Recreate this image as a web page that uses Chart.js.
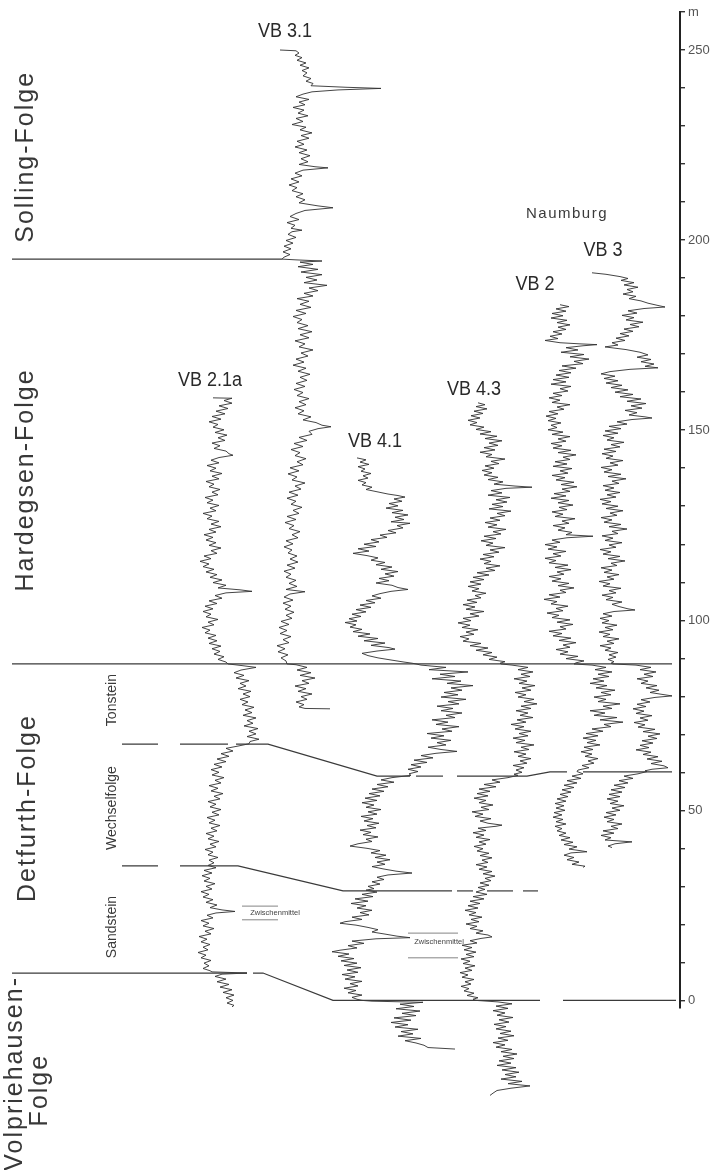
<!DOCTYPE html>
<html lang="de">
<head>
<meta charset="utf-8">
<title>Gamma-Ray-Logs Buntsandstein</title>
<script src="https://cdn.jsdelivr.net/npm/chart.js@4.4.1/dist/chart.umd.min.js"></script>
<style>
  html, body { margin: 0; padding: 0; background: #fff; }
  canvas { display: block; }
</style>
</head>
<body>
<canvas id="logs" width="716" height="1170"></canvas>
<script>
// Depth axis (m) and its labelled ticks
const depthMin = -2;
const depthMax = 260;
const depthStep = 10;
const depthLabelEvery = 50;
const depthUnit = 'm';

// Log traces: [depth in m, log deflection]
const vb31 = [
[250.0,280],[249.8,296],[249.2,299],[248.6,295],[248.0,302],[247.3,297],[246.6,306],[246.0,300],[245.3,309],[244.6,302],[244.0,307],[243.2,303],[242.5,311],[241.8,306],[241.2,313],[240.6,311],
[240.2,346],[239.9,381],[239.5,338],[239.0,312],[238.4,303],[237.7,296],[237.0,309],[236.3,299],[235.6,305],[234.9,293],[234.2,304],[233.4,298],[232.7,308],[232.0,296],[231.2,303],[230.4,292],[229.7,306],[229.0,300],[228.2,312],[227.5,301],[226.8,309],[226.0,297],[225.2,304],[224.5,295],[223.7,307],[223.0,299],[222.2,310],[221.4,301],[220.6,308],[219.9,299],[219.3,315],[219.0,328],[218.4,303],[217.6,295],[216.9,302],[216.1,291],[215.3,299],[214.5,289],[213.8,297],[213.0,292],[212.2,303],[211.4,296],[210.6,305],[209.8,299],[209.0,318],[208.5,333],[207.8,305],[207.0,296],[206.2,290],[205.4,299],[204.6,287],[203.9,295],[203.1,291],[202.6,302],[202.2,292],[201.5,288],[200.7,296],[199.9,286],[199.2,293],[198.4,284],[197.7,291],[196.9,283],[196.2,290],[195.5,284],[195.0,282],
[194.8,296],[194.5,322],[194.2,300],[193.6,313],[193.0,298],[192.3,318],[191.6,301],[190.9,322],[190.2,306],[189.5,317],[188.8,304],[188.1,327],[187.4,309],[186.7,318],[186.0,304],[185.3,313],[184.6,297],[183.9,309],[183.1,300],[182.3,311],[181.5,296],[180.7,306],[179.9,293],[179.1,302],[178.3,297],[177.5,308],[176.7,298],[175.9,312],[175.1,300],[174.3,309],[173.5,295],[172.7,305],[171.9,299],[171.1,313],[170.3,301],[169.5,308],[168.7,296],[167.9,304],[167.1,293],[166.3,306],[165.5,298],[164.7,310],[163.9,300],[163.1,307],[162.3,296],[161.5,305],[160.7,294],[159.9,303],[159.1,297],[158.3,309],[157.5,299],[156.7,306],[155.9,295],[155.1,304],[154.3,298],[153.5,311],[152.7,303],[152.0,316],[151.3,322],[150.9,331],[150.4,318],[149.7,309],[148.9,312],[148.1,299],[147.3,307],[146.5,294],[145.7,303],[144.9,291],[144.1,300],[143.3,295],[142.5,306],[141.7,297],[140.9,303],[140.1,290],[139.3,299],[138.5,288],[137.7,297],[136.9,292],[136.1,305],[135.3,295],[134.5,301],[133.7,289],[132.9,298],[132.1,287],[131.3,296],[130.5,291],[129.7,302],[128.9,293],[128.1,299],[127.3,287],[126.5,296],[125.7,285],[124.9,294],[124.1,289],[123.3,300],[122.5,292],[121.7,298],[120.9,286],[120.1,293],[119.3,284],[118.5,292],[117.7,288],[116.9,297],[116.1,290],[115.3,298],[114.5,287],[113.7,295],[112.9,284],[112.1,291],[111.3,286],[110.5,296],[109.7,289],[108.9,297],[108.1,286],[107.5,305],[106.9,290],[106.1,284],[105.3,293],[104.5,283],[103.7,291],[102.9,285],[102.1,294],[101.3,286],[100.5,292],[99.7,281],[98.9,289],[98.1,279],[97.3,287],[96.5,280],[95.7,291],[94.9,283],[94.1,289],[93.3,277],[92.5,285],[91.7,278],[90.9,288],[90.1,281],[89.3,286],[88.5,287],
[88.3,296],[87.6,307],[86.9,297],[86.2,311],[85.5,300],[84.8,315],[84.1,302],[83.4,309],[82.7,295],[82.0,306],[81.3,298],[80.6,312],[79.9,301],[79.2,307],[78.5,296],[77.8,304],[77.2,299],[76.8,305],[76.7,330]
];

const vb21a = [
[158.5,213],[158.4,232],[157.8,224],[157.1,232],[156.4,219],[155.7,228],[155.0,216],[154.3,225],[153.6,212],[152.9,221],[152.2,209],[151.5,218],[150.8,213],[150.1,224],[149.4,215],[148.7,227],[148.0,218],[147.3,225],[146.6,212],[145.9,220],[145.2,214],[144.5,226],[143.8,229],[143.4,233],[142.8,219],[142.1,211],[141.4,219],[140.7,207],[140.0,216],[139.3,210],[138.6,222],[137.9,212],[137.2,219],[136.5,206],[135.8,214],[135.1,209],[134.4,220],[133.7,212],[133.0,218],[132.3,205],[131.6,213],[130.9,207],[130.2,219],[129.5,210],[128.8,216],[128.1,203],[127.4,212],[126.7,207],[126.0,219],[125.3,211],[124.6,221],[123.9,209],[123.2,216],[122.5,204],[121.8,213],[121.1,206],[120.4,216],[119.7,209],[119.0,221],[118.3,211],[117.6,217],[116.9,204],[116.2,211],[115.5,200],[114.8,209],[114.1,203],[113.4,214],[112.7,206],[112.0,217],[111.3,210],[110.6,222],[109.9,213],[109.2,226],[108.5,218],[108.0,240],[107.6,252],[107.2,226],[106.5,215],[105.8,222],[105.1,209],[104.4,217],[103.7,205],[103.0,213],[102.3,203],[101.6,211],[100.9,206],[100.2,218],[99.5,208],[98.8,214],[98.1,202],[97.4,210],[96.7,205],[96.0,216],[95.3,208],[94.6,217],[93.9,209],[93.2,221],[92.5,212],[91.8,220],[91.1,214],[90.4,224],[89.7,218],[89.0,226],[88.5,228],
[88.2,238],[87.6,256],[86.9,241],[86.2,234],[85.5,244],[84.8,236],[84.1,249],[83.4,240],[82.7,246],[82.0,238],[81.3,251],[80.6,243],[79.9,250],[79.2,240],[78.5,248],[77.8,242],[77.1,254],[76.4,245],[75.7,252],[75.0,243],[74.3,256],[73.6,247],[72.9,253],[72.2,244],[71.5,258],[70.8,249],[70.1,256],[69.4,247],[68.7,259],[68.1,250],[67.5,249],
[66.9,238],[66.3,226],[65.6,233],[64.9,221],[64.2,229],[63.5,217],[62.8,226],[62.1,214],[61.4,222],[60.7,211],[60.0,219],[59.3,212],[58.6,224],[57.9,215],[57.2,221],[56.5,209],[55.8,218],[55.1,211],[54.4,223],[53.7,214],[53.0,220],[52.3,208],[51.6,216],[50.9,210],[50.2,221],[49.5,212],[48.8,219],[48.1,207],[47.4,215],[46.7,209],[46.0,220],[45.3,211],[44.6,217],[43.9,206],[43.2,214],[42.5,208],[41.8,219],[41.1,210],[40.4,216],[39.7,205],[39.0,213],[38.3,208],[37.6,218],[36.9,209],[36.2,214],[35.5,208],
[34.9,216],[34.2,204],[33.5,212],[32.8,202],[32.1,210],[31.4,204],[30.7,215],[30.0,206],[29.3,212],[28.6,201],[27.9,209],[27.2,203],[26.5,213],[25.8,206],[25.1,217],[24.4,210],[23.8,222],[23.4,235],[23.0,216],[22.4,207],[21.7,213],[21.0,201],[20.3,209],[19.6,203],[18.9,214],[18.2,205],[17.5,211],[16.8,199],[16.1,207],[15.4,201],[14.7,210],[14.0,203],[13.3,208],[12.6,198],[11.9,206],[11.2,201],[10.5,211],[9.8,204],[9.1,209],[8.4,203],[7.8,210],[7.5,212],
[7.2,247],[6.9,222],[6.3,215],[5.6,226],[4.9,217],[4.2,229],[3.5,220],[2.8,232],[2.1,223],[1.4,234],[0.7,226],[0.0,233],[-0.7,227],[-1.3,234],[-1.7,232]
];

const vb41 = [
[142.7,357],[142.2,366],[141.6,360],[141.0,369],[140.4,358],[139.8,365],[139.2,361],[138.6,371],[138.0,363],[137.4,368],[136.8,358],[136.2,366],[135.6,362],[135.0,372],[134.4,366],[133.8,377],[133.2,388],[132.8,398],[132.4,405],[131.9,394],[131.3,402],[130.7,389],[130.1,398],[129.5,386],[128.9,403],[128.3,392],[127.7,408],[127.1,395],[126.5,404],[125.9,391],[125.5,410],[124.9,397],[124.3,403],[123.6,388],[123.0,396],[122.4,380],[121.8,387],[121.2,371],[120.6,379],[120.0,364],[119.4,376],[118.8,358],[118.2,369],[117.6,353],[117.0,367],[116.4,378],[115.8,371],[115.2,385],[114.6,376],[114.0,392],[113.4,381],[112.8,398],[112.2,385],[111.6,394],[111.0,379],[110.4,389],[109.8,376],[109.2,392],[108.6,398],[108.1,408],[107.6,391],[107.0,380],[106.4,372],[105.8,381],[105.2,366],[104.6,375],[104.0,360],[103.4,371],[102.8,356],[102.2,366],[101.6,352],[101.0,361],[100.4,349],[99.8,357],[99.4,345],[98.8,356],[98.2,350],[97.6,362],[97.0,353],[96.4,370],[95.8,358],[95.2,378],[94.6,364],[94.0,385],[93.4,371],[92.8,389],[92.4,395],[91.9,377],[91.3,362],[90.7,368],[90.1,378],[89.5,392],[89.0,404],[88.7,412],[88.5,416],
[88.2,421],[87.6,446],[87.0,429],[86.4,468],[85.8,440],[85.2,455],[84.6,432],[84.0,461],[83.4,447],[82.8,473],[82.2,451],[81.6,462],[81.0,444],[80.4,458],[79.8,441],[79.2,466],[78.6,448],[78.0,459],[77.4,437],[76.8,453],[76.2,441],[75.6,462],[75.0,446],[74.4,455],[73.8,432],[73.2,448],[72.6,436],[72.0,459],[71.4,442],[70.8,452],[70.2,427],[69.6,444],[69.0,431],[68.4,451],[67.8,437],[67.2,446],[66.6,428],[66.0,441],[65.5,457],[65.0,436],[64.4,421],[63.8,433],[63.2,414],[62.6,427],[62.0,411],[61.4,421],[60.8,408],[60.2,418],[59.6,409],[59.2,411],
[58.6,392],[58.0,381],[57.4,394],[56.8,377],[56.2,388],[55.6,372],[55.0,384],[54.4,369],[53.8,380],[53.2,365],[52.6,377],[52.0,362],[51.4,374],[50.8,366],[50.2,381],[49.6,368],[49.0,377],[48.4,361],[47.8,373],[47.2,364],[46.6,379],[46.0,367],[45.4,376],[44.8,360],[44.2,371],[43.6,363],[43.0,378],[42.4,366],[41.8,372],[41.2,358],[40.6,350],[40.0,367],[39.4,380],[38.8,371],[38.2,386],[37.6,375],[37.0,390],[36.4,377],[35.8,385],[35.2,372],[34.6,383],[34.0,396],[33.5,412],[33.0,388],[32.4,377],[31.8,384],[31.2,372],[30.6,380],[30.0,368],[29.4,374],[29.0,366],
[28.5,377],[27.9,362],[27.3,373],[26.7,355],[26.1,368],[25.5,351],[24.9,366],[24.3,357],[23.7,372],[23.1,360],[22.5,369],[21.9,352],[21.3,362],[20.7,345],[20.3,340],[19.8,356],[19.2,368],[18.6,378],[18.0,372],[17.4,386],[16.9,397],[16.5,410],[16.2,376],[15.6,352],[15.0,364],[14.4,348],[13.8,357],[13.2,340],[12.8,332],[12.2,349],[11.6,338],[11.0,354],[10.4,341],[9.8,357],[9.2,344],[8.6,361],[8.0,347],[7.4,358],[6.8,342],[6.2,355],[5.6,345],[5.0,362],[4.4,350],[3.8,358],[3.2,344],[2.6,356],[2.0,348],[1.4,362],[0.8,352],[0.3,357],[0.0,362],
[-0.2,372],[-0.5,423],[-1.0,400],[-1.6,414],[-2.2,396],[-2.8,420],[-3.4,402],[-4.0,416],[-4.6,394],[-5.2,411],[-5.8,391],[-6.4,408],[-7.0,395],[-7.6,418],[-8.2,401],[-8.8,413],[-9.4,398],[-10.0,421],[-10.6,405],[-11.2,416],[-11.8,424],[-12.4,428],[-12.8,455]
];

const vb43 = [
[157.2,478],[156.7,485],[156.2,476],[155.6,487],[155.0,474],[154.4,483],[153.8,471],[153.2,480],[152.6,468],[152.0,477],[151.4,470],[150.8,484],[150.2,476],[149.6,491],[149.0,480],[148.4,497],[147.8,485],[147.2,502],[146.6,489],[146.0,498],[145.4,484],[144.8,495],[144.2,480],[143.6,492],[143.0,486],[142.4,505],[141.8,491],[141.2,499],[140.6,485],[140.0,494],[139.4,482],[138.8,492],[138.2,484],[137.6,498],[137.0,488],[136.4,503],[135.8,494],[135.3,515],[135.0,532],[134.7,506],[134.1,491],[133.5,502],[132.9,488],[132.3,510],[131.7,496],[131.1,507],[130.5,492],[129.9,503],[129.3,489],[128.7,511],[128.1,497],[127.5,505],[126.9,490],[126.3,500],[125.7,485],[125.1,497],[124.5,488],[123.9,506],[123.3,493],[122.7,501],[122.1,484],[121.5,496],[120.9,481],[120.3,493],[119.7,486],[119.1,505],[118.5,490],[117.9,499],[117.3,483],[116.7,494],[116.1,480],[115.5,491],[114.9,484],[114.3,500],[113.7,486],[113.1,495],[112.5,477],[111.9,489],[111.3,473],[110.7,484],[110.1,470],[109.5,481],[108.9,468],[108.3,479],[107.7,472],[107.1,486],[106.5,475],[105.9,481],[105.3,467],[104.7,477],[104.1,463],[103.5,475],[102.9,466],[102.3,484],[101.7,470],[101.1,479],[100.5,463],[99.9,471],[99.3,458],[98.7,470],[98.1,462],[97.5,478],[96.9,466],[96.3,474],[95.7,460],[95.1,469],[94.5,463],[93.9,481],[93.3,470],[92.7,488],[92.1,476],[91.5,492],[90.9,483],[90.3,497],[89.7,489],[89.1,505],[88.7,500],[88.5,501],
[88.2,512],[87.6,528],[87.0,518],[86.4,533],[85.8,521],[85.2,530],[84.6,514],[84.0,527],[83.4,519],[82.8,535],[82.2,522],[81.6,531],[81.0,515],[80.4,526],[79.8,518],[79.2,534],[78.6,524],[78.0,537],[77.4,521],[76.8,531],[76.2,516],[75.6,528],[75.0,520],[74.4,533],[73.8,517],[73.2,526],[72.6,511],[72.0,524],[71.4,515],[70.8,531],[70.2,519],[69.6,528],[69.0,513],[68.4,525],[67.8,516],[67.2,534],[66.6,521],[66.0,529],[65.4,514],[64.8,526],[64.2,518],[63.6,531],[63.0,520],[62.4,527],[61.8,513],[61.2,524],[60.6,516],[60.0,522],[59.5,514],[59.2,518],
[58.6,508],[58.0,492],[57.4,500],[56.8,484],[56.2,496],[55.6,479],[55.0,490],[54.4,477],[53.8,488],[53.2,474],[52.6,486],[52.0,479],[51.4,493],[50.8,481],[50.2,489],[49.6,472],[49.0,483],[48.4,475],[47.8,491],[47.2,480],[46.6,488],[46.1,502],[45.8,496],[45.3,478],[44.7,486],[44.1,473],[43.5,484],[42.9,476],[42.3,490],[41.7,479],[41.1,486],[40.5,474],[39.9,483],[39.3,477],[38.7,489],[38.1,480],[37.5,492],[36.9,482],[36.3,488],[35.7,476],[35.1,487],[34.5,479],[33.9,492],[33.3,483],[32.7,495],[32.1,485],[31.5,491],[30.9,480],[30.3,489],[29.7,478],[29.2,485],[29.0,482],
[28.5,476],[27.9,487],[27.3,473],[26.7,484],[26.1,470],[25.5,480],[24.9,468],[24.3,478],[23.7,465],[23.1,476],[22.5,469],[21.9,482],[21.3,471],[20.7,479],[20.1,466],[19.5,477],[18.9,470],[18.3,483],[17.7,476],[17.2,488],[16.7,492],[16.3,481],[15.7,470],[15.1,477],[14.5,462],[13.9,472],[13.3,464],[12.7,476],[12.1,466],[11.5,474],[10.9,461],[10.3,470],[9.7,463],[9.1,475],[8.5,465],[7.9,472],[7.3,460],[6.7,468],[6.1,462],[5.5,474],[4.9,465],[4.3,471],[3.7,461],[3.1,469],[2.5,464],[1.9,474],[1.3,467],[0.7,478],[0.3,473],[0.0,476],
[-0.4,498],[-0.9,512],[-1.5,496],[-2.1,508],[-2.7,493],[-3.3,505],[-3.9,497],[-4.5,513],[-5.1,499],[-5.7,509],[-6.3,494],[-6.9,506],[-7.5,496],[-8.1,511],[-8.7,500],[-9.3,514],[-9.9,498],[-10.5,508],[-11.1,493],[-11.7,505],[-12.3,496],[-12.9,512],[-13.5,501],[-14.1,517],[-14.7,503],[-15.3,514],[-15.9,499],[-16.5,511],[-17.1,497],[-17.7,516],[-18.3,502],[-18.9,519],[-19.5,505],[-20.1,516],[-20.7,501],[-21.3,522],[-21.9,508],[-22.5,530],[-23.1,511],[-23.7,497],[-24.4,493],[-25.0,490]
];

const vb2 = [
[183.0,560],[182.5,569],[181.9,556],[181.3,566],[180.7,552],[180.1,563],[179.5,551],[178.9,567],[178.3,557],[177.7,570],[177.1,558],[176.5,566],[175.9,553],[175.3,562],[174.7,550],[174.1,558],[173.6,545],[173.0,560],[172.7,580],[172.5,597],[172.2,583],[171.7,566],[171.1,578],[170.5,561],[169.9,584],[169.3,570],[168.7,589],[168.1,574],[167.5,583],[166.9,562],[166.3,576],[165.7,559],[165.1,571],[164.5,556],[163.9,569],[163.3,553],[162.7,566],[162.1,551],[161.5,571],[160.9,560],[160.3,568],[159.7,553],[159.1,562],[158.5,549],[157.9,560],[157.3,552],[156.7,570],[156.1,557],[155.5,564],[154.9,549],[154.3,558],[153.7,546],[153.1,556],[152.5,548],[151.9,561],[151.3,551],[150.7,557],[150.1,548],[149.5,563],[148.9,552],[148.3,570],[147.7,558],[147.1,566],[146.5,551],[145.9,562],[145.3,553],[144.7,571],[144.1,558],[143.5,576],[142.9,563],[142.3,570],[141.7,555],[141.1,567],[140.5,553],[139.9,572],[139.3,560],[138.7,568],[138.1,552],[137.5,565],[136.9,556],[136.3,574],[135.7,561],[135.1,577],[134.5,562],[133.9,570],[133.3,554],[132.7,566],[132.1,551],[131.5,569],[130.9,558],[130.3,573],[129.7,559],[129.1,567],[128.5,552],[127.9,563],[127.3,555],[126.7,575],[126.1,562],[125.5,569],[124.9,553],[124.3,565],[123.7,558],[123.1,572],[122.5,566],[122.1,593],[121.7,567],[121.1,552],[120.5,560],[119.9,545],[119.3,557],[118.7,548],[118.1,566],[117.5,553],[116.9,561],[116.3,545],[115.7,556],[115.1,549],[114.5,568],[113.9,555],[113.3,571],[112.7,557],[112.1,564],[111.5,549],[110.9,561],[110.3,552],[109.7,569],[109.1,558],[108.5,574],[107.9,560],[107.3,566],[106.7,549],[106.1,560],[105.5,544],[104.9,557],[104.3,551],[103.7,568],[103.1,556],[102.5,563],[101.9,547],[101.3,559],[100.7,552],[100.1,570],[99.5,557],[98.9,573],[98.3,560],[97.7,566],[97.1,549],[96.5,562],[95.9,553],[95.3,571],[94.7,559],[94.1,576],[93.5,563],[92.9,570],[92.3,556],[91.7,568],[91.1,560],[90.5,578],[89.9,566],[89.3,584],[88.8,576],[88.5,574],
[88.2,592],[87.6,606],[87.0,595],[86.4,612],[85.8,598],[85.2,609],[84.6,593],[84.0,604],[83.4,590],[82.8,607],[82.2,596],[81.6,615],[81.0,601],[80.4,611],[79.8,594],[79.2,606],[78.6,598],[78.0,620],[77.4,603],[76.8,612],[76.2,590],[75.6,605],[75.0,594],[74.4,617],[73.8,600],[73.2,623],[72.6,604],[72.0,611],[71.4,592],[70.8,603],[70.2,586],[69.6,598],[69.0,583],[68.4,596],[67.8,587],[67.2,600],[66.6,584],[66.0,593],[65.4,581],[64.8,592],[64.2,585],[63.6,598],[63.0,588],[62.4,594],[61.8,582],[61.2,589],[60.6,578],[60.2,577],
[59.6,583],[59.0,572],[58.4,581],[57.8,567],[57.2,577],[56.6,564],[56.0,574],[55.4,562],[54.8,571],[54.2,560],[53.6,568],[53.0,557],[52.4,566],[51.8,555],[51.2,564],[50.6,556],[50.0,565],[49.4,554],[48.8,562],[48.2,553],[47.6,563],[47.0,556],[46.4,566],[45.8,555],[45.2,562],[44.6,557],[44.0,566],[43.4,559],[42.8,570],[42.2,561],[41.6,573],[41.0,564],[40.4,577],[39.8,569],[39.4,580],[39.1,587],[38.8,571],[38.2,564],[37.6,574],[37.0,567],[36.4,579],[35.8,572],[35.3,585],[35.0,583]
];

const vb3 = [
[191.4,592],[191.0,606],[190.4,620],[189.9,628],[189.4,621],[188.8,634],[188.2,624],[187.6,638],[187.0,627],[186.4,633],[185.8,623],[185.2,636],[184.6,629],[184.0,641],[183.4,648],[182.8,658],[182.4,665],[182.0,644],[181.4,628],[180.8,637],[180.2,622],[179.6,634],[179.0,626],[178.4,643],[177.8,630],[177.2,639],[176.6,624],[176.0,633],[175.4,620],[174.8,629],[174.2,616],[173.6,625],[173.0,612],[172.4,618],[171.9,605],[171.2,626],[170.5,640],[169.8,648],[169.2,637],[168.6,651],[168.0,641],[167.4,654],[166.8,645],[166.4,658],[166.0,630],[165.4,610],[164.8,601],[164.2,615],[163.6,604],[163.0,618],[162.4,606],[161.8,622],[161.2,611],[160.6,628],[160.0,615],[159.4,633],[158.8,620],[158.2,641],[157.6,627],[157.0,646],[156.4,631],[155.8,642],[155.2,625],[154.6,637],[154.0,629],[153.5,645],[153.2,652],[152.8,632],[152.2,617],[151.6,627],[151.0,609],[150.4,621],[149.8,605],[149.2,618],[148.6,603],[148.0,614],[147.4,607],[146.8,624],[146.2,611],[145.6,620],[145.0,604],[144.4,616],[143.8,602],[143.2,613],[142.6,606],[142.0,623],[141.4,610],[140.8,618],[140.2,601],[139.6,612],[139.0,604],[138.4,621],[137.8,608],[137.2,626],[136.6,612],[136.0,619],[135.4,603],[134.8,614],[134.2,605],[133.6,620],[133.0,607],[132.4,616],[131.8,600],[131.2,611],[130.6,602],[130.0,618],[129.4,606],[128.8,623],[128.2,610],[127.6,617],[127.0,601],[126.4,612],[125.8,604],[125.2,621],[124.6,609],[124.0,627],[123.4,612],[122.8,618],[122.2,602],[121.6,613],[121.0,605],[120.4,622],[119.8,609],[119.2,616],[118.6,600],[118.0,611],[117.4,603],[116.8,620],[116.2,608],[115.6,625],[115.0,611],[114.4,617],[113.8,601],[113.2,612],[112.6,604],[112.0,619],[111.4,607],[110.8,614],[110.2,599],[109.6,610],[109.0,603],[108.4,621],[107.8,609],[107.2,616],[106.6,602],[106.0,613],[105.4,606],[104.8,622],[104.2,612],[103.6,619],[103.0,628],[102.7,635],[102.3,614],[101.7,603],[101.1,612],[100.5,600],[99.9,609],[99.3,602],[98.7,617],[98.1,605],[97.5,613],[96.9,599],[96.3,610],[95.7,603],[95.1,619],[94.5,607],[93.9,614],[93.3,600],[92.7,611],[92.1,605],[91.5,618],[90.9,609],[90.3,616],[89.7,608],[89.1,614],[88.7,611],[88.5,613],
[88.2,636],[87.6,651],[87.0,640],[86.4,656],[85.8,644],[85.2,653],[84.6,637],[84.0,648],[83.4,641],[82.8,657],[82.2,646],[81.6,659],[81.0,650],[80.5,662],[80.1,672],[79.7,655],[79.1,641],[78.5,650],[77.9,637],[77.3,646],[76.7,633],[76.1,644],[75.5,636],[74.9,652],[74.3,640],[73.7,648],[73.1,634],[72.5,645],[71.9,638],[71.3,655],[70.7,643],[70.1,660],[69.5,648],[68.9,657],[68.3,642],[67.7,653],[67.1,640],[66.5,649],[65.9,636],[65.3,651],[64.7,643],[64.1,658],[63.5,647],[62.9,662],[62.3,651],[61.7,664],[61.2,668],[60.8,652],[60.4,645],[60.2,647],
[59.6,638],[59.0,624],[58.4,633],[57.8,619],[57.2,628],[56.6,614],[56.0,625],[55.4,611],[54.8,622],[54.2,609],[53.6,620],[53.0,607],[52.4,618],[51.8,610],[51.2,624],[50.6,612],[50.0,620],[49.4,606],[48.8,616],[48.2,604],[47.6,614],[47.0,607],[46.4,622],[45.8,611],[45.2,618],[44.6,603],[44.0,614],[43.4,601],[42.8,611],[42.2,605],[41.7,632],[41.2,615],[40.6,608],[40.2,612]
];

const wellNames = ['VB 3.1', 'VB 2.1a', 'VB 4.1', 'VB 4.3', 'VB 2', 'VB 3'];
const wellTraces = [vb31, vb21a, vb41, vb43, vb2, vb3];
const areaName = 'Naumburg';

// Formation boundaries as polylines of [position, depth]
const sollingBase = [[[12,195],[282,195]]];
const hardegsenBase = [[[12,88.5],[672,88.5]]];
const tonsteinBase = [
  [[122,67.4],[158,67.4]],
  [[180,67.4],[228,67.4]],
  [[236,67.4],[268,67.4],[377,59.0],[410,59.0]],
  [[416,59.0],[443,59.0]],
  [[457,59.0],[527,59.0],[550,60.1],[567,60.1]],
  [[583,60.1],[672,60.1]]
];
const wechselBase = [
  [[122,35.4],[158,35.4]],
  [[180,35.4],[238,35.4],[343,28.8],[452,28.8]],
  [[457,28.8],[473,28.8]],
  [[487,28.8],[513,28.8]],
  [[523,28.8],[538,28.8]]
];
const detfurthBase = [
  [[12,7.2],[247,7.2]],
  [[253,7.2],[263,7.2],[333,0],[540,0]],
  [[563,0],[676,0]]
];
const partingMarks = [
  [[242,24.8],[278,24.8]], [[242,21.2],[278,21.2]],
  [[408,17.7],[458,17.7]], [[408,11.2],[458,11.2]]
];

// Text placement [position, depth]
const wellLabelAt = [[285,255],[210,163.2],[375,146.9],[474,160.8],[535,188.2],[603,197.2]];
const areaLabelAt = [567,206.9];
const unitNames = ['Solling-Folge', 'Hardegsen-Folge', 'Detfurth-Folge', 'Volpriehausen-', 'Folge'];
const unitLabelAt = [[26,221.9],[26,136.9],[28,50.6],[15,-19.2],[40,-23.6]];
const memberNames = ['Tonstein', 'Wechselfolge', 'Sandstein'];
const memberLabelAt = [[112,79.0],[112,50.6],[112,19.3]];
const partingName = 'Zwischenmittel';
const partingLabelAt = [[275,23.0],[439,15.4]];

const ink = '#303030';

function toPoints(pairs) { return pairs.map(([m, v]) => ({ x: v, y: m })); }
function toLine(poly) { return poly.map(([v, m]) => ({ x: v, y: m })); }

const datasets = [];
[sollingBase, hardegsenBase, tonsteinBase, wechselBase, detfurthBase].forEach(group => {
  group.forEach(poly => datasets.push({
    data: toLine(poly), showLine: true, pointRadius: 0, borderColor: '#3a3a3a',
    borderWidth: 1.2, clip: false, tension: 0
  }));
});
partingMarks.forEach(poly => datasets.push({
  data: toLine(poly), showLine: true, pointRadius: 0, borderColor: '#666',
  borderWidth: 0.8, clip: false, tension: 0
}));
wellTraces.forEach((trace, i) => datasets.push({
  label: wellNames[i], data: toPoints(trace), showLine: true, pointRadius: 0,
  borderColor: ink, borderWidth: 0.9, clip: false, tension: 0
}));

function drawText(ctx, text, x, y, opt) {
  ctx.save();
  ctx.translate(x, y);
  if (opt.rotate) ctx.rotate(opt.rotate);
  if (opt.sx) ctx.scale(opt.sx, 1);
  ctx.font = opt.font;
  ctx.letterSpacing = (opt.spacing || 0) + 'px';
  ctx.fillStyle = opt.color || ink;
  ctx.textAlign = 'center';
  ctx.textBaseline = 'middle';
  ctx.fillText(text, 0, 0);
  ctx.restore();
}

const annotations = {
  id: 'annotations',
  afterDatasetsDraw(chart) {
    const { ctx, scales: { x, y } } = chart;
    const at = ([v, m]) => [x.getPixelForValue(v), y.getPixelForValue(m)];
    wellNames.forEach((name, i) => {
      const [px, py] = at(wellLabelAt[i]);
      drawText(ctx, name, px, py, { font: '20px "Liberation Sans"', sx: 0.9, color: '#2a2a2a' });
    });
    {
      const [px, py] = at(areaLabelAt);
      drawText(ctx, areaName, px, py, { font: '15px "Liberation Sans"', spacing: 1.5, color: '#3a3a3a' });
    }
    unitNames.forEach((name, i) => {
      const [px, py] = at(unitLabelAt[i]);
      drawText(ctx, name, px, py, { font: '25px "Liberation Sans"', spacing: 2, rotate: -Math.PI / 2, color: '#383838' });
    });
    memberNames.forEach((name, i) => {
      const [px, py] = at(memberLabelAt[i]);
      drawText(ctx, name, px, py, { font: '14px "Liberation Sans"', rotate: -Math.PI / 2, color: '#3a3a3a' });
    });
    partingLabelAt.forEach(pos => {
      const [px, py] = at(pos);
      drawText(ctx, partingName, px, py, { font: '7.5px "Liberation Sans"', color: '#444' });
    });
  }
};

new Chart(document.getElementById('logs'), {
  type: 'scatter',
  data: { datasets },
  options: {
    responsive: false,
    animation: false,
    events: [],
    layout: { padding: { top: 12, bottom: 162, left: 0, right: 0 } },
    plugins: { legend: { display: false }, tooltip: { enabled: false } },
    scales: {
      x: { type: 'linear', min: 0, max: 680, display: false },
      y: {
        type: 'linear', position: 'right', min: depthMin, max: depthMax,
        afterFit(scale) { scale.width = 36; },
        border: { display: true, color: '#222', width: 2 },
        grid: { drawOnChartArea: false, drawTicks: true, tickLength: 5, color: '#333', lineWidth: 1.4 },
        ticks: {
          stepSize: depthStep, includeBounds: false, autoSkip: false, padding: 3,
          color: '#555', font: { family: 'Liberation Sans', size: 13 },
          callback: v => v === depthMax ? depthUnit : (v % depthLabelEvery === 0 ? String(v) : '')
        }
      }
    }
  },
  plugins: [annotations]
});
</script>
</body>
</html>
